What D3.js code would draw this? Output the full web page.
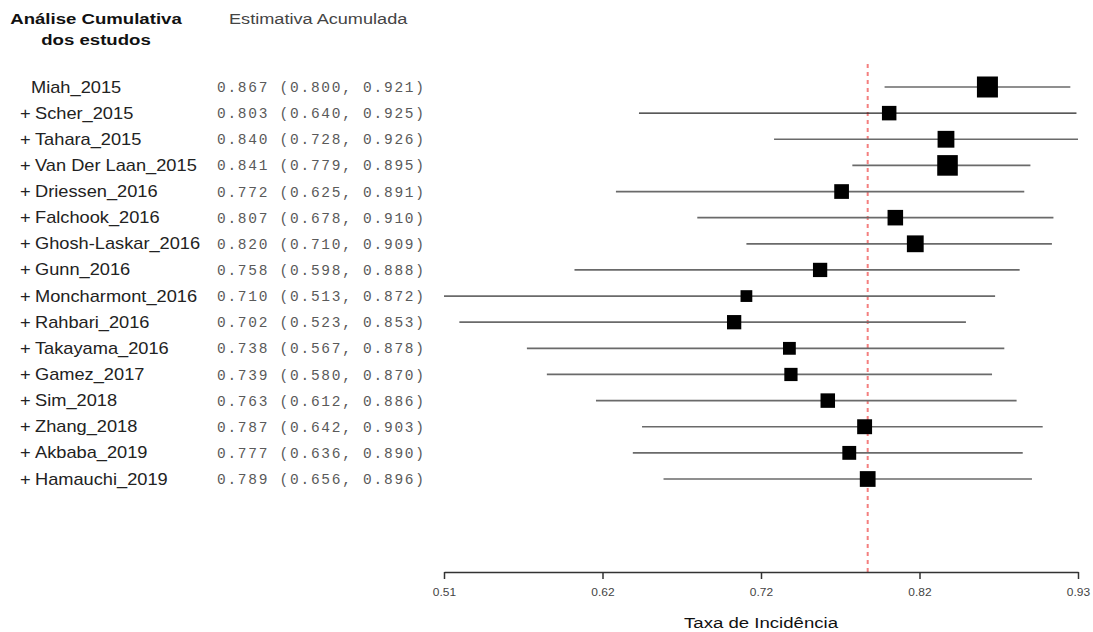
<!DOCTYPE html>
<html>
<head>
<meta charset="utf-8">
<script src="https://cdn.jsdelivr.net/npm/d3@7"></script>
<style>
  body { margin: 0; background: #fff; }
  svg { display: block; }
</style>
</head>
<body>
<svg id="chart" width="1093" height="632"></svg>
<script>
// --- data
const studies = ["Miah_2015", "Scher_2015", "Tahara_2015", "Van Der Laan_2015", "Driessen_2016",
  "Falchook_2016", "Ghosh-Laskar_2016", "Gunn_2016", "Moncharmont_2016", "Rahbari_2016",
  "Takayama_2016", "Gamez_2017", "Sim_2018", "Zhang_2018", "Akbaba_2019", "Hamauchi_2019"];
const est   = [0.867, 0.803, 0.840, 0.841, 0.772, 0.807, 0.820, 0.758, 0.710, 0.702, 0.738, 0.739, 0.763, 0.787, 0.777, 0.789];
const lower = [0.800, 0.640, 0.728, 0.779, 0.625, 0.678, 0.710, 0.598, 0.513, 0.523, 0.567, 0.580, 0.612, 0.642, 0.636, 0.656];
const upper = [0.921, 0.925, 0.926, 0.895, 0.891, 0.910, 0.909, 0.888, 0.872, 0.853, 0.878, 0.870, 0.886, 0.903, 0.890, 0.896];
// relative marker weight (largest = 1)
const weights = [1.0, 0.69, 0.80, 0.98, 0.70, 0.74, 0.80, 0.68, 0.56, 0.68, 0.61, 0.63, 0.69, 0.71, 0.66, 0.75];
const xTicks = [0.513, 0.61625, 0.7195, 0.82275, 0.926];
const summary = 0.789;

const rows = studies.map((s, i) => ({ name: s, est: est[i], lo: lower[i], hi: upper[i], w: weights[i], i }));

const svg = d3.select("#chart");
const sans = "'Liberation Sans', Arial, sans-serif";
const mono = "'Liberation Mono', 'Courier New', monospace";
const SX = 1.14; // the original render is stretched horizontally

// scales
const x = d3.scaleLinear().domain([0.513, 0.926]).range([444, 1078]);
const y = d3.scalePoint().domain(studies).range([87, 479]);
const size = d3.scaleLinear().domain([0, 1]).range([0, 21]);
const axisY = 572;

// stretched text helper
function label(parent, tx, ty, txt, font, fill, anchor = "start", sx = SX) {
  return parent.append("text")
    .attr("transform", `translate(${tx},${ty}) scale(${sx},1)`)
    .attr("text-anchor", anchor)
    .style("font", font).attr("fill", fill).text(txt);
}

// headers
label(svg, 96, 24, "Análise Cumulativa", `bold 15.5px ${sans}`, "#111", "middle", 1.2);
label(svg, 96, 45, "dos estudos", `bold 15.5px ${sans}`, "#111", "middle", 1.2);
label(svg, 229, 24, "Estimativa Acumulada", `15.5px ${sans}`, "#444", "start", 1.17);

// summary reference line
svg.append("line")
  .attr("x1", x(summary)).attr("x2", x(summary)).attr("y1", 64).attr("y2", axisY)
  .attr("stroke", "#f47f7f").attr("stroke-width", 2).attr("stroke-dasharray", "4,4");

// rows
const row = svg.append("g").selectAll("g").data(rows).join("g")
  .attr("transform", d => `translate(0,${y(d.name)})`);

row.filter(d => d.i > 0).each(function () {
  label(d3.select(this), 20, 5.5, "+", `16px ${sans}`, "#222");
});
row.each(function (d) {
  label(d3.select(this), d.i > 0 ? 35 : 31, 5.5, d.name, `16px ${sans}`, "#222");
});
row.append("text")
  .attr("x", 217).attr("dy", "0.35em")
  .attr("textLength", 207).attr("lengthAdjust", "spacing")
  .style("font", `14.5px ${mono}`).attr("fill", "#5a5a5a")
  .text(d => `${d.est.toFixed(3)} (${d.lo.toFixed(3)}, ${d.hi.toFixed(3)})`);

row.append("line")
  .attr("x1", d => x(d.lo)).attr("x2", d => x(d.hi))
  .attr("stroke", d => d.i === 1 ? "#222" : "#6a6a6a")
  .attr("stroke-width", d => d.i === 1 ? 1.3 : 1.7);
row.append("rect")
  .attr("x", d => x(d.est) - size(d.w) / 2).attr("y", d => -size(d.w) / 2)
  .attr("width", d => size(d.w)).attr("height", d => size(d.w))
  .attr("fill", "#000");

// x axis
const gx = svg.append("g").attr("transform", `translate(0,${axisY})`)
  .call(d3.axisBottom(x).tickValues(xTicks).tickSize(7).tickSizeOuter(0).tickPadding(10)
    .tickFormat(d3.format(".2f")));
gx.select(".domain").attr("stroke", "#333").attr("stroke-width", 1.5);
gx.selectAll(".tick line").attr("stroke", "#333").attr("stroke-width", 1.5);
gx.selectAll(".tick text").style("font", `10.5px ${sans}`).attr("fill", "#444")
  .attr("transform", `scale(${SX},1)`);

label(svg, 761, 628, "Taxa de Incidência", `15.5px ${sans}`, "#111", "middle", 1.2);
</script>
</body>
</html>
